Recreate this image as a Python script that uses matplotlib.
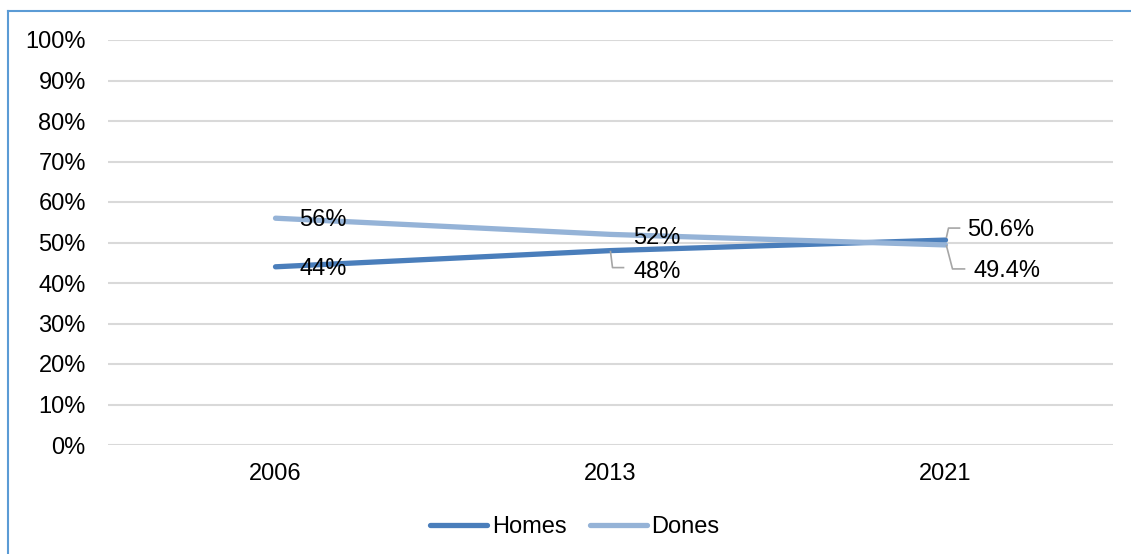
import matplotlib
matplotlib.use("Agg")
import matplotlib.pyplot as plt
from matplotlib.lines import Line2D
from matplotlib.transforms import IdentityTransform
from matplotlib.ticker import FuncFormatter

plt.rcParams['font.family'] = ['Liberation Sans', 'DejaVu Sans']

years = ["2006", "2013", "2021"]
homes = [44, 48, 50.6]
dones = [56, 52, 49.4]
homes_labels = ["44%", "48%", "50.6%"]
dones_labels = ["56%", "52%", "49.4%"]

c_homes = "#4A7EBB"
c_dones = "#95B3D7"
fs = 17

W, H = 1131, 554
fig = plt.figure(figsize=(W / 100, H / 100), dpi=100)
ax = fig.add_axes([108 / W, 1 - 445 / H, (1113 - 108) / W, (445 - 40) / H])

x = list(range(len(years)))
ax.plot(x, homes, color=c_homes, lw=3.8, solid_capstyle='round', label="Homes", zorder=3)
ax.plot(x, dones, color=c_dones, lw=3.8, solid_capstyle='round', label="Dones", zorder=3)

ax.set_xlim(-0.5, len(years) - 0.5)
ax.set_ylim(0, 100)
ax.set_yticks(range(0, 101, 10))
ax.yaxis.set_major_formatter(FuncFormatter(lambda v, p: f"{int(v)}%"))
ax.set_xticks(x)
ax.set_xticklabels(years)
ax.tick_params(axis='both', length=0, labelsize=fs, colors='#000000')
ax.tick_params(axis='y', pad=16)
ax.tick_params(axis='x', pad=13)
ax.grid(axis='y', color='#D9D9D9', lw=1.5)
ax.set_axisbelow(True)
for s in ax.spines.values():
    s.set_visible(False)

# data labels: (dx, dy) offsets in pixels (image y downward), leader path or None
label_specs = {
    ("h", 0): ((24, 2), None),
    ("d", 0): ((24, 2), None),
    ("d", 1): ((23, 4), None),
    ("h", 1): ((23, 21), [(0, 1), (2, 17), (13, 17)]),
    ("h", 2): ((22, -10), [(1, -3), (3, -12), (14, -12)]),
    ("d", 2): ((28, 26), [(1, 1), (7, 24), (19, 24)]),
}
fig.canvas.draw()
for key, vals, labs in (("h", homes, homes_labels), ("d", dones, dones_labels)):
    for i, (v, lab) in enumerate(zip(vals, labs)):
        (dx, dy), path = label_specs[(key, i)]
        px, py = ax.transData.transform((x[i], v))
        fig.text((px + dx) / W, (py - dy) / H, lab, fontsize=fs, ha='left', va='center',
                 color='#000000', zorder=5)
        if path:
            xs = [px + a for a, b in path]
            ys = [py - b for a, b in path]
            fig.add_artist(Line2D(xs, ys, transform=IdentityTransform(), color='#A6A6A6', lw=1.2))

leg = fig.legend(loc='center', bbox_to_anchor=(575 / W, 1 - 527 / H), ncol=2, frameon=False,
                 fontsize=fs, handlelength=2.4, handletextpad=0.2, columnspacing=1.0)

# chart frame (left and top)
fig.add_artist(Line2D([8 / W, 8 / W], [0, 1 - 11 / H], color='#5B9BD5', lw=1.5))
fig.add_artist(Line2D([8 / W, 1], [1 - 11 / H, 1 - 11 / H], color='#5B9BD5', lw=1.5))

fig.savefig("out.png", dpi=100, facecolor='white')
